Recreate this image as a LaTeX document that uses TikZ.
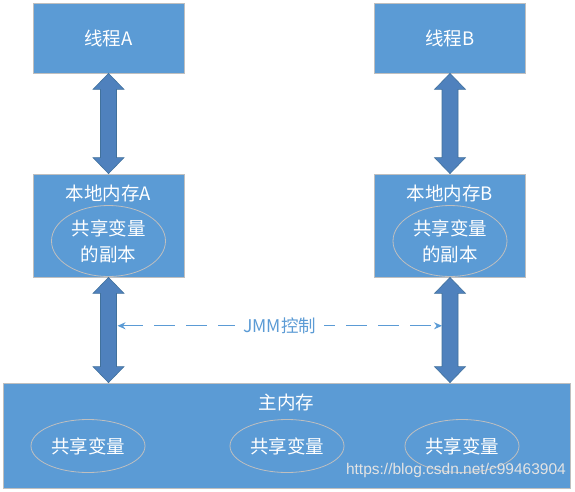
\documentclass[tikz,border=0pt]{standalone}
\usepackage{fontspec}
\setmainfont{Noto Sans CJK SC}
\newfontfamily\wmfont{Liberation Sans}
\usetikzlibrary{arrows.meta,calc,shapes.geometric}
\definecolor{boxblue}{HTML}{5B9BD5}
\definecolor{arrowblue}{HTML}{4F81BD}
\definecolor{arrowedge}{HTML}{41719C}
\definecolor{edgegray}{HTML}{BFBFBF}
\definecolor{jmmblue}{HTML}{5B9BD5}
\begin{document}
\begin{tikzpicture}[x=1pt,y=1pt,
  box/.style={draw=edgegray, line width=0.8pt, fill=boxblue, inner sep=0pt},
  lbl/.style={text=white, font=\fontsize{18.5}{26}\selectfont, inner sep=0pt},
  oval/.style={ellipse, draw=edgegray, line width=0.8pt, inner sep=0pt, text=white,
               font=\fontsize{18.5}{26}\selectfont, align=center},
  bigarrow/.style={fill=arrowblue, draw=arrowedge, line width=0.6pt, line join=miter},
  jmm/.style={draw=jmmblue, line width=1.1pt, dash pattern=on 21pt off 11pt,
              {Stealth[length=8pt,width=7pt]}-{Stealth[length=8pt,width=7pt]}}
]
\useasboundingbox (0,0) rectangle (575,491);

% thread boxes
\node[box, minimum width=151, minimum height=70] (ta) at (108.5,453) {};
\node[lbl] (tal) at (ta.center) {线程A};
\node[box, minimum width=151, minimum height=70] (tb) at (450,453) {};
\node[lbl] (tbl) at (tb.center) {线程B};

% local memory boxes
\node[box, minimum width=151, minimum height=103] (la) at (108.5,265.5) {};
\node[lbl] (lal) at (108.5,298) {本地内存A};
\node[oval, minimum width=114, minimum height=71] (ea) at (108.5,250) {共享变量\\的副本};
\node[box, minimum width=151, minimum height=103] (lb) at (450,265.5) {};
\node[lbl] (lbl) at (450,298) {本地内存B};
\node[oval, minimum width=114, minimum height=71] (eb) at (450,250) {共享变量\\的副本};

% main memory
\node[box, minimum width=567, minimum height=105] (mm) at (286.5,55.5) {};
\node[lbl] (mml) at (286.5,89) {主内存};
\node[oval, minimum width=114, minimum height=53] (m1) at (88,45) {共享变量};
\node[oval, minimum width=114, minimum height=53] (m2) at (287,45) {共享变量};
\node[oval, minimum width=114, minimum height=53] (m3) at (462,45) {共享变量};

% watermark
\node[anchor=east, text=white!78!gray, font=\wmfont\fontsize{15.5}{17}\selectfont, inner sep=0pt] (wm) at (566,21) {https://blog.csdn.net/c99463904};

% double arrows
\newcommand\dblarrow[2]{%
  \draw[bigarrow] let \p1=(#1), \p2=(#2) in
    (\x1,\y1) -- (\x1+15.5pt,\y1-16pt) -- (\x1+8pt,\y1-16pt) -- (\x1+8pt,\y2+16pt)
    -- (\x1+15.5pt,\y2+16pt) -- (\x1,\y2) -- (\x1-15.5pt,\y2+16pt) -- (\x1-8pt,\y2+16pt)
    -- (\x1-8pt,\y1-16pt) -- (\x1-15.5pt,\y1-16pt) -- cycle;}
\dblarrow{ta.south}{la.north}
\dblarrow{tb.south}{lb.north}
\dblarrow{la.south}{la.south |- mm.north}
\dblarrow{lb.south}{lb.south |- mm.north}

% JMM control
\coordinate (jl) at ($(la.south)!0.46!(la.south |- mm.north) + (9,0)$);
\coordinate (jr) at ($(lb.south)!0.46!(lb.south |- mm.north) + (-8,0)$);
\draw[jmm] (jl) -- (jr);
\node[fill=white, text=jmmblue, font=\fontsize{17.5}{20}\selectfont, inner xsep=8pt, inner ysep=1pt] (jt) at ($(jl)!0.5!(jr)$) {JMM控制};
\end{tikzpicture}
\end{document}
